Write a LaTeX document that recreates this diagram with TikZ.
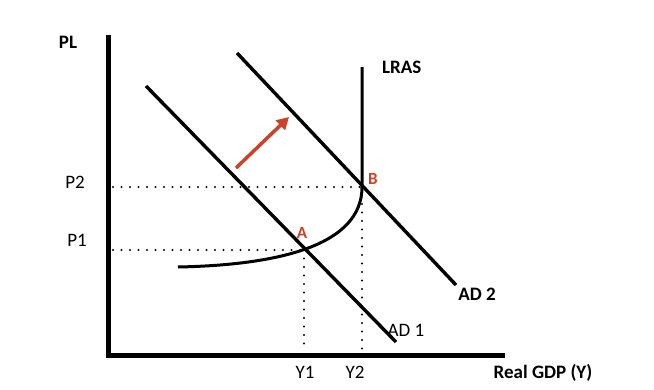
\documentclass[tikz,border=0pt]{standalone}
\usepackage{fontspec}
\setmainfont{Carlito}
\usetikzlibrary{arrows.meta}
\definecolor{redarrow}{RGB}{205,65,40}
\begin{document}
\begin{tikzpicture}[x=1pt,y=-1pt,
  axis/.style={line width=5pt},
  curveline/.style={line width=3.4pt},
  dotline/.style={line width=2.2pt,dash pattern=on 0pt off 8.5pt,line cap=round},
  lbl/.style={font=\fontsize{19}{22}\selectfont,inner sep=0pt},
  blbl/.style={font=\fontsize{19}{22}\selectfont\bfseries,inner sep=0pt},
  pt/.style={font=\fontsize{17}{20}\selectfont\bfseries,inner sep=0pt,text=redarrow}]
\useasboundingbox (0,0) rectangle (654,389);
% key points
\coordinate (O) at (108,355);
\coordinate (Ytop) at (108,35);
\coordinate (Xend) at (505,355);
\coordinate (A) at (304,250);
\coordinate (B) at (362,187);
\coordinate (LRAStop) at (362,67);
\coordinate (S) at (178,267);
\coordinate (AD1s) at (146,86);
\coordinate (AD1e) at (396,342);
\coordinate (AD2s) at (237,53);
\coordinate (AD2e) at (456,285);
\coordinate (P2l) at (113,187);
\coordinate (P1l) at (113,250);
\coordinate (Y1b) at (304,351);
\coordinate (Y2b) at (362,351);
\coordinate (arrS) at (236,168);
\coordinate (arrE) at (289,117);
% dotted guides
\draw[dotline] (P2l) -- (B);
\draw[dotline] (P1l) -- (A);
\draw[dotline] (A) -- (Y1b);
\draw[dotline] (B) -- (Y2b);
% axes
\draw[axis] (Ytop) -- (O) -- (Xend);
% AD curves
\draw[curveline] (AD1s) -- (AD1e);
\draw[curveline] (AD2s) -- (AD2e);
% SRAS/LRAS curve
\draw[line width=3pt] (S) .. controls (280,265) and (362,245) .. (B) -- (LRAStop);
% shift arrow
\draw[redarrow,line width=3.5pt,-{Triangle[length=12pt,width=13pt]}] (arrS) -- (arrE);
% labels
\node[blbl] (pl) at (68,42) {PL};
\node[lbl] (p2) at (75,182) {P2};
\node[lbl] (p1) at (77,240) {P1};
\node[lbl] (y1) at (305,372) {Y1};
\node[lbl] (y2) at (355,372) {Y2};
\node[blbl] (gdp) at (543,373) {Real GDP (Y)};
\node[blbl,anchor=west] (lras) at (382,67) {LRAS};
\node[lbl] (ad1) at (406,330) {AD 1};
\node[blbl] (ad2) at (477,294) {AD 2};
\node[pt] (la) at (302,233) {A};
\node[pt] (lb) at (373,179) {B};
\end{tikzpicture}
\end{document}
